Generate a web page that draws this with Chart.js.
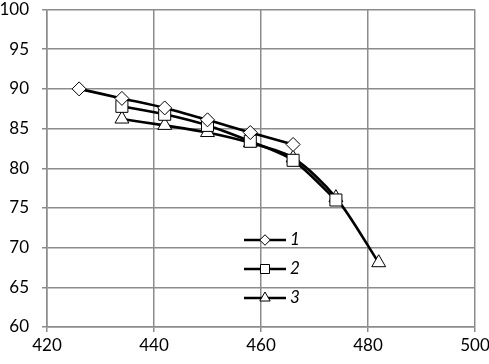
<!DOCTYPE html>
<html lang="en">
   <head>
      <meta charset="UTF-8" />
      <title>Chart</title>
      <script src="https://cdn.jsdelivr.net/npm/chart.js"></script>
      <style>
         body {
            margin: 0;
            overflow: hidden;
            background: #fff;
         }
         #wrap {
            width: 489px;
            height: 364px;
         }
      </style>
   </head>
   <body>
      <div id="wrap"><canvas id="chart"></canvas></div>
      <script>
         // series values
         const x1 = [426, 434, 442, 450, 458, 466];
         const y1 = [90, 88.8, 87.6, 86.1, 84.5, 83];
         const x2 = [434, 442, 450, 458, 466, 474];
         const y2 = [87.8, 86.8, 85.4, 83.4, 81, 76];
         const x3 = [434, 442, 450, 458, 466, 474, 482];
         const y3 = [86.2, 85.4, 84.5, 83.2, 81.3, 76.3, 68.1];
         const labels = ['1', '2', '3'];
         const xTicks = [420, 440, 460, 480, 500];
         const yTicks = [60, 65, 70, 75, 80, 85, 90, 95, 100];

         const styles = ['rectRot', 'rect', 'triangle'];
         const radii = [7, 8.5, 8];

         function pts(xs, ys) {
            return xs.map((x, i) => ({ x: x, y: ys[i] }));
         }

         const seriesData = [pts(x1, y1), pts(x2, y2), pts(x3, y3)];

         const datasets = seriesData.map((d, i) => ({
            label: labels[i],
            data: d,
            borderColor: '#000',
            borderWidth: 2.6,
            tension: 0.3,
            pointStyle: styles[i],
            pointRadius: radii[i],
            pointBackgroundColor: '#fff',
            pointBorderColor: '#000',
            pointBorderWidth: 1,
            fill: false,
         }));

         // legend drawn inside the plot, like the original
         const innerLegend = {
            id: 'innerLegend',
            afterDatasetsDraw(chart) {
               const ctx = chart.ctx;
               const x0 = 244;
               const x1e = 286;
               const ys = [240, 269, 298];
               ctx.save();
               labels.forEach((lab, i) => {
                  const y = ys[i];
                  ctx.strokeStyle = '#000';
                  ctx.lineWidth = 2.6;
                  ctx.beginPath();
                  ctx.moveTo(x0, y);
                  ctx.lineTo(x1e, y);
                  ctx.stroke();
                  ctx.fillStyle = '#fff';
                  ctx.lineWidth = 1;
                  Chart.helpers.drawPoint(
                     ctx,
                     { pointStyle: styles[i], radius: radii[i] * 0.75, borderWidth: 1 },
                     (x0 + x1e) / 2,
                     y
                  );
                  ctx.fillStyle = '#000';
                  ctx.font = 'italic 17px Lato';
                  ctx.textBaseline = 'middle';
                  ctx.fillText(lab, 290, y);
               });
               ctx.restore();
            },
         };

         Chart.defaults.font.family = 'Lato';
         Chart.defaults.font.size = 17;
         Chart.defaults.color = '#000';

         new Chart(document.getElementById('chart'), {
            type: 'line',
            data: { datasets: datasets },
            plugins: [innerLegend],
            options: {
               responsive: true,
               maintainAspectRatio: false,
               animation: false,
               layout: { padding: { top: 3, right: 14, left: 0, bottom: 0 } },
               plugins: {
                  legend: { display: false },
                  tooltip: { enabled: false },
               },
               scales: {
                  x: {
                     type: 'linear',
                     min: xTicks[0],
                     max: xTicks[xTicks.length - 1],
                     afterBuildTicks: (s) => {
                        s.ticks = xTicks.map((v) => ({ value: v }));
                     },
                     afterFit: (s) => {
                        s.height = 37;
                        s.paddingLeft = 0;
                        s.paddingRight = 0;
                     },
                     ticks: { padding: 3, maxRotation: 0 },
                     grid: { color: '#8c8c8c', lineWidth: 1.5, tickLength: 5 },
                     border: { color: '#8c8c8c', width: 1.5 },
                  },
                  y: {
                     min: yTicks[0],
                     max: yTicks[yTicks.length - 1],
                     afterBuildTicks: (s) => {
                        s.ticks = yTicks.map((v) => ({ value: v }));
                     },
                     afterFit: (s) => {
                        s.width = 47;
                        s.paddingTop = 0;
                        s.paddingBottom = 0;
                     },
                     ticks: { padding: 13 },
                     grid: { color: '#8c8c8c', lineWidth: 1.5, tickLength: 5 },
                     border: { color: '#8c8c8c', width: 1.5 },
                  },
               },
            },
         });
      </script>
   </body>
</html>
